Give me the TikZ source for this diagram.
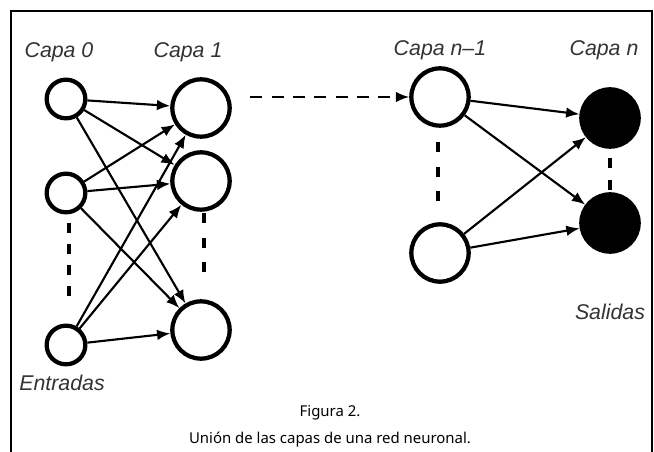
\documentclass[tikz,border=0pt]{standalone}
\usepackage{fontspec}
\setsansfont{Liberation Sans}
\newfontfamily\capfont{Noto Sans}
\usetikzlibrary{arrows.meta}
\definecolor{labelgray}{HTML}{333333}
\tikzset{
  small/.style={circle,draw,line width=3.2pt,minimum size=29pt,inner sep=0pt},
  big/.style={circle,draw,line width=3.2pt,minimum size=43pt,inner sep=0pt},
  outnode/.style={circle,draw,fill=black,line width=3.2pt,minimum size=43pt,inner sep=0pt},
  layerlabel/.style={font=\sffamily\itshape\fontsize{16}{18}\selectfont,text=labelgray},
  link/.style={line width=1.6pt,-{Latex[length=10pt,width=8pt]}},
  gap/.style={line width=2.6pt,dash pattern=on 7.5pt off 11pt}
}
\begin{document}
\begin{tikzpicture}[x=0.75pt,y=-0.75pt]
\useasboundingbox (0,0) rectangle (654,452);
\draw[line width=1.1pt] (11,452) -- (11,11) -- (652,11) -- (652,452);
% layer labels
\node[layerlabel] (l0) at (59,52) {Capa 0};
\node[layerlabel] (l1) at (188,52) {Capa 1};
\node[layerlabel] (ln1) at (440,50) {Capa n--1};
\node[layerlabel] (ln) at (604,50) {Capa n};
% neurons
\node[small] (a1) at (66,99) {};
\node[small] (a2) at (66,193) {};
\node[small] (a3) at (66,345) {};
\node[big] (b1) at (201,108) {};
\node[big] (b2) at (201,181) {};
\node[big] (b3) at (201,330) {};
\node[big] (c1) at (440,97) {};
\node[big] (c2) at (440,253) {};
\node[outnode] (d1) at (610,118) {};
\node[outnode] (d2) at (610,223) {};
% connections
\foreach \i in {1,2,3}
\foreach \j in {1,2,3}
\draw[link] (a\i) -- (b\j);
\foreach \i in {1,2}
\foreach \j in {1,2}
\draw[link] (c\i) -- (d\j);
\draw[link,dash pattern=on 9pt off 7pt,shorten <=14pt] (b1.east |- c1) -- (c1);
% hidden neurons
\draw[gap,dash pattern=on 7.5pt off 8.3pt] (69,223) -- (69,298);
\draw[gap] (204,213) -- (204,273);
\draw[gap] (438,142) -- (438,203);
\draw[gap,dash pattern=on 7.5pt off 9pt] (610,158) -- (610,190);
\node[layerlabel] (inp) at (62,383) {Entradas};
\node[layerlabel] (outp) at (610,312) {Salidas};
% caption
\node[font=\capfont\fontsize{11.2}{13}\selectfont] (fig) at (330,413) {Figura 2.};
\node[font=\capfont\fontsize{11.2}{13}\selectfont] (cap) at (330,440) {Unión de las capas de una red neuronal.};
\end{tikzpicture}
\end{document}
